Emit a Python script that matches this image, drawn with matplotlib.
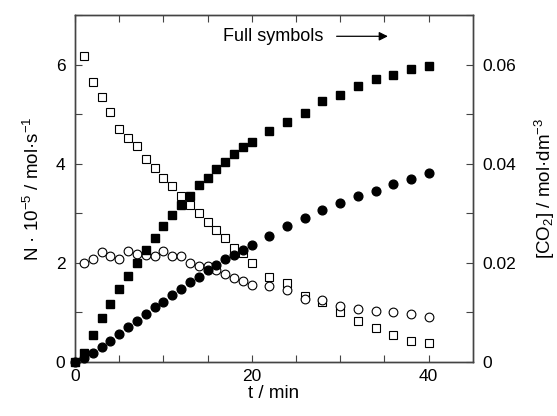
import matplotlib
matplotlib.use("Agg")
import matplotlib.pyplot as plt

plt.rcParams['font.family'] = ['Liberation Sans', 'DejaVu Sans']
plt.rcParams['mathtext.default'] = 'regular'
plt.rcParams['font.size'] = 13

# open symbols: N (left axis, x 1e-5 mol/s)
t_open = [1, 2, 3, 4, 5, 6, 7, 8, 9, 10, 11, 12, 13, 14, 15, 16, 17, 18, 19, 20,
          22, 24, 26, 28, 30, 32, 34, 36, 38, 40]
n_square = [6.18, 5.64, 5.35, 5.04, 4.69, 4.52, 4.36, 4.09, 3.91, 3.72, 3.54, 3.34,
            3.17, 3.0, 2.83, 2.67, 2.5, 2.29, 2.19, 1.99,
            1.71, 1.6, 1.32, 1.2, 1.0, 0.82, 0.68, 0.55, 0.43, 0.38]
n_circle = [2.0, 2.08, 2.21, 2.14, 2.08, 2.24, 2.18, 2.16, 2.14, 2.23, 2.14, 2.13,
            1.99, 1.94, 1.94, 1.85, 1.77, 1.69, 1.64, 1.55,
            1.53, 1.45, 1.26, 1.24, 1.12, 1.07, 1.02, 1.0, 0.96, 0.90]

# full symbols: [CO2] (right axis, mol/dm3)
t_full = [0, 1, 2, 3, 4, 5, 6, 7, 8, 9, 10, 11, 12, 13, 14, 15, 16, 17, 18, 19, 20,
          22, 24, 26, 28, 30, 32, 34, 36, 38, 40]
co2_square = [0.0, 0.0019, 0.0055, 0.0088, 0.0117, 0.0147, 0.0174, 0.0199, 0.0226,
              0.025, 0.0275, 0.0297, 0.0317, 0.0335, 0.0356, 0.0371, 0.0389, 0.0404,
              0.042, 0.0433, 0.0443,
              0.0465, 0.0485, 0.0502, 0.0526, 0.0539, 0.0556, 0.057, 0.0578, 0.059, 0.0597]
co2_circle = [0.0, 0.0007, 0.0017, 0.0031, 0.0043, 0.0057, 0.0071, 0.0083, 0.0096,
              0.011, 0.012, 0.0135, 0.0147, 0.0161, 0.0172, 0.0185, 0.0196, 0.0207,
              0.0216, 0.0226, 0.0236,
              0.0255, 0.0274, 0.029, 0.0306, 0.032, 0.0334, 0.0345, 0.0358, 0.037, 0.0381]

fig = plt.figure(figsize=(5.57, 4.16), dpi=100)
ax = fig.add_axes([0.1347, 0.130, 0.714, 0.834])
ax2 = ax.twinx()

ms = 6.3
ax.plot(t_open, n_square, 's', ms=ms, mfc='white', mec='black', mew=0.8, clip_on=False)
ax.plot(t_open, n_circle, 'o', ms=ms, mfc='white', mec='black', mew=0.8, clip_on=False)
ax2.plot(t_full, co2_square, 's', ms=ms, color='black', clip_on=False, zorder=3)
ax2.plot(t_full, co2_circle, 'o', ms=ms, color='black', clip_on=False, zorder=3)

ax.set_xlim(0, 45)
ax.set_ylim(0, 7)
ax2.set_ylim(0, 0.07)

ax.set_xticks([0, 20, 40])
ax.set_xticks(range(0, 45, 5), minor=True)
ax.set_yticks([0, 2, 4, 6])
ax.set_yticks(range(0, 8), minor=True)
ax2.set_yticks([0, 0.02, 0.04, 0.06])
ax2.set_yticklabels(['0', '0.02', '0.04', '0.06'])
ax2.set_yticks([i / 100 for i in range(0, 8)], minor=True)

for a in (ax, ax2):
    a.tick_params(which='both', direction='in', length=5, width=0.8, color='#444444',
                  labelsize=12.5, pad=7)
    for s in a.spines.values():
        s.set_color('#444444')
        s.set_linewidth(1.0)
ax.tick_params(axis='x', which='both', top=True, bottom=True, pad=5)

ax.set_xlabel('t / min', fontsize=13.5, labelpad=1)
ax.set_ylabel('N · 10$^{-5}$ / mol·s$^{-1}$', fontsize=13.5, labelpad=9)
ax2.set_ylabel('[CO$_2$] / mol·dm$^{-3}$', fontsize=13.5, labelpad=12)

ax.text(16.7, 6.57, 'Full symbols', fontsize=13, va='center', ha='left')
ax.annotate('', xy=(35.4, 6.57), xytext=(29.6, 6.57),
            arrowprops=dict(arrowstyle='-|>', color='black', lw=0.9,
                            mutation_scale=13, shrinkA=0, shrinkB=0))

fig.savefig('out.png', dpi=100)
